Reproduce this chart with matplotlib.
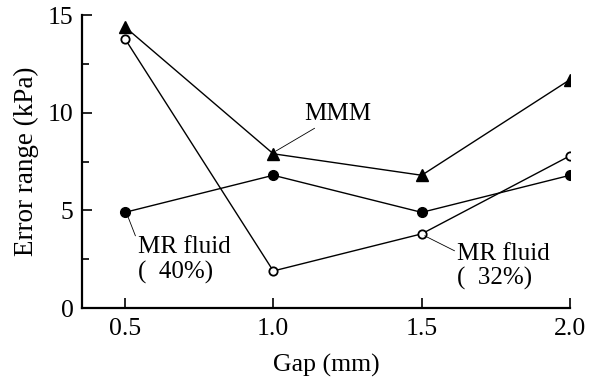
import matplotlib.pyplot as plt
from matplotlib.ticker import MultipleLocator

plt.rcParams['font.family'] = ['Liberation Serif', 'DejaVu Serif']

gap = [0.5, 1.0, 1.5, 2.0]
mmm = [14.4, 7.9, 6.8, 11.7]
mr40 = [4.9, 6.8, 4.9, 6.8]
mr32 = [13.8, 1.9, 3.8, 7.8]

fig = plt.figure(figsize=(5.97, 3.78), dpi=100)
ax = fig.add_axes([0.137, 0.185, 0.818, 0.775])

ax.plot(gap, mmm, color='black', lw=1.0, marker='^', ms=8.5, mfc='black', mec='black')
ax.plot(gap, mr40, color='black', lw=1.0, marker='o', ms=7, mfc='black', mec='black')
ax.plot(gap, mr32, color='black', lw=1.0, marker='o', ms=6, mfc='white', mec='black', mew=1.3)

ax.set_xlim(0.355, 2.0)
ax.set_ylim(0, 15)
ax.set_xticks(gap)
ax.set_xticklabels(['0.5', '1.0', '1.5', '2.0'])
ax.set_yticks([0, 5, 10, 15])
ax.yaxis.set_minor_locator(MultipleLocator(2.5))
ax.tick_params(which='both', direction='in', labelsize=18.5, width=1.2, color='black')
ax.tick_params(which='major', length=7)
ax.tick_params(which='minor', length=5)
ax.tick_params(axis='x', pad=7)
ax.tick_params(axis='y', pad=6)
for s in ['top', 'right']:
    ax.spines[s].set_visible(False)
for s in ['left', 'bottom']:
    ax.spines[s].set_linewidth(1.6)

ax.set_xlabel('Gap (mm)', fontsize=18.5, labelpad=10)
ax.set_ylabel('Error range (kPa)', fontsize=19.5, labelpad=6)

ax.annotate('MMM', xy=(gap[1] + 0.01, mmm[1] + 0.15), xytext=(1.105, 9.35),
            fontsize=18, ha='left', va='bottom',
            arrowprops=dict(arrowstyle='-', lw=0.6, color='black', shrinkA=0, shrinkB=0))
ax.annotate('MR fluid\n(  40%)', xy=(gap[0] + 0.01, mr40[0] - 0.2), xytext=(0.545, 3.7),
            fontsize=18, ha='left', va='top', linespacing=1.15,
            arrowprops=dict(arrowstyle='-', lw=0.6, color='black', shrinkA=0, shrinkB=0,
                            relpos=(0, 0.85)))
ax.annotate('MR fluid\n(  32%)', xy=(gap[2] + 0.01, mr32[2] - 0.1), xytext=(1.62, 3.35),
            fontsize=18, ha='left', va='top', linespacing=1.15,
            arrowprops=dict(arrowstyle='-', lw=0.6, color='black', shrinkA=0, shrinkB=0,
                            relpos=(0, 0.8)))

fig.savefig('out.png', dpi=100)
